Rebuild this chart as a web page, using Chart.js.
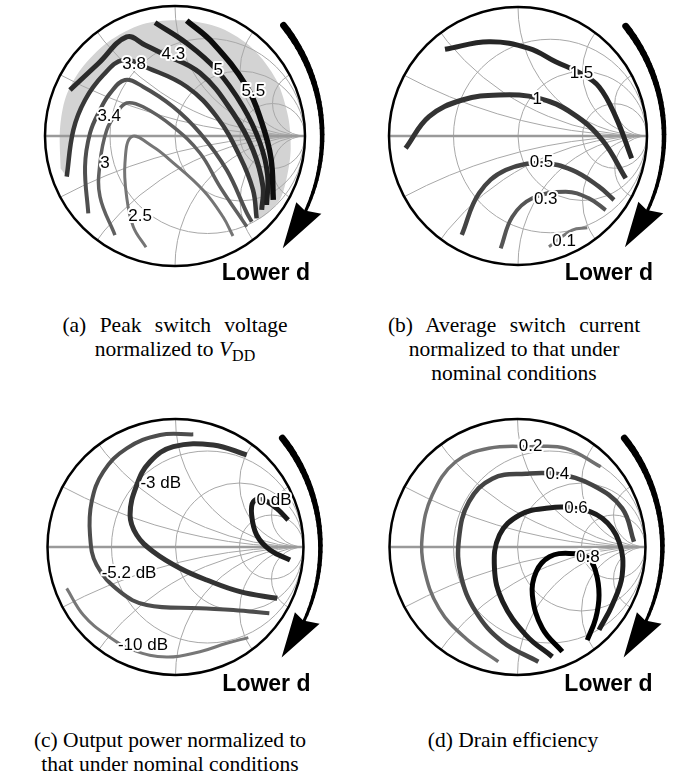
<!DOCTYPE html>
<html>
<head>
<meta charset="utf-8">
<script src="https://cdn.jsdelivr.net/npm/chart.js@4.4.0/dist/chart.umd.min.js"></script>
<style>
  body { margin: 0; background: #fff; width: 678px; height: 779px; position: relative; overflow: hidden; }
  canvas { position: absolute; }
  .cap { position: absolute; width: 300px; font-family: "Liberation Serif", "Times New Roman", serif; font-size: 21.5px; line-height: 24px; text-align: center; color: #000; white-space: nowrap; }
  .wide { word-spacing: 8px; }
  .sub { font-size: 16px; position: relative; top: 5px; }
</style>
</head>
<body>
<canvas id="chartA" width="339" height="300" style="left:0;top:0"></canvas>
<canvas id="chartB" width="339" height="300" style="left:339px;top:0"></canvas>
<canvas id="chartC" width="339" height="300" style="left:0;top:410px"></canvas>
<canvas id="chartD" width="339" height="300" style="left:339px;top:410px"></canvas>

<div class="cap" style="left:25px;top:313px"><span class="wide">(a) Peak switch voltage</span><br>normalized to <i>V</i><span class="sub">DD</span></div>
<div class="cap" style="left:364px;top:313px"><span class="wide">(b) Average switch current</span><br>normalized to that under<br>nominal conditions</div>
<div class="cap" style="left:20px;top:728px">(c) Output power normalized to<br>that under nominal conditions</div>
<div class="cap" style="left:363px;top:728px">(d) Drain efficiency</div>

<script>
// Grade da carta de Smith
const resistanceCircles = [1 / 3, 1, 3];
const reactanceArcs = [0.25, 0.5, 1, 2, 4];

// (a) Tensão de pico normalizada a VDD — pontos em coordenadas Γ (u, v)
const peak55 = [[0.09, 0.888], [0.292, 0.715], [0.552, 0.379], [0.665, 0.11], [0.738, -0.17], [0.756, -0.492]];
const peak5 = [[-0.154, 0.872], [0.09, 0.713], [0.32, 0.508], [0.523, 0.225], [0.654, -0.054], [0.712, -0.3], [0.705, -0.531]];
const peak43 = [[-0.808, 0.354], [-0.59, 0.558], [-0.372, 0.762], [-0.231, 0.7], [-0.102, 0.636], [0.192, 0.485], [0.446, 0.177], [0.6, -0.108], [0.677, -0.392], [0.667, -0.569]];
const peak38 = [[-0.833, -0.313], [-0.782, 0.046], [-0.692, 0.277], [-0.552, 0.469], [-0.397, 0.585], [-0.205, 0.521], [0.09, 0.379], [0.321, 0.148], [0.5, -0.159], [0.6, -0.415], [0.628, -0.633]];
const peak34 = [[-0.667, -0.595], [-0.692, -0.236], [-0.654, 0.021], [-0.577, 0.2], [-0.5, 0.328], [-0.385, 0.431], [-0.246, 0.379], [-0.015, 0.225], [0.192, 0.023], [0.398, -0.262], [0.552, -0.592], [0.59, -0.659]];
const peak3 = [[-0.462, -0.762], [-0.577, -0.467], [-0.577, -0.208], [-0.525, 0.046], [-0.448, 0.177], [-0.372, 0.254], [-0.246, 0.225], [-0.015, 0.072], [0.192, -0.131], [0.346, -0.39], [0.552, -0.698]];
const peak25 = [[-0.223, -0.856], [-0.321, -0.698], [-0.372, -0.467], [-0.385, -0.208], [-0.333, -0.005], [-0.169, -0.082], [-0.038, -0.185], [0.215, -0.415], [0.369, -0.621], [0.446, -0.769]];
const peakShade = [[-0.88, -0.25], [-0.885, 0.05], [-0.84, 0.3], [-0.72, 0.52], [-0.52, 0.72], [-0.25, 0.86], [0.05, 0.89], [0.35, 0.83], [0.6, 0.67], [0.78, 0.43], [0.87, 0.15], [0.89, -0.1], [0.86, -0.32], [0.8, -0.5], [0.63, -0.64], [0.6, -0.415], [0.5, -0.159], [0.321, 0.148], [0.09, 0.379], [-0.205, 0.521], [-0.397, 0.585], [-0.552, 0.469], [-0.692, 0.277], [-0.782, 0.046], [-0.833, -0.313]];
const peakLabels = [["5.5", 0.603, 0.341], ["5", 0.333, 0.508], ["4.3", -0.013, 0.629], ["3.8", -0.314, 0.552], ["3.4", -0.506, 0.148], ["3", -0.538, -0.21], ["2.5", -0.269, -0.621]];

// (b) Corrente média normalizada
const curr15 = [[-0.566, 0.672], [-0.225, 0.731], [0.085, 0.68], [0.292, 0.576], [0.486, 0.486], [0.628, 0.382], [0.757, 0.15], [0.881, -0.173]];
const curr1 = [[-0.871, -0.095], [-0.69, 0.15], [-0.432, 0.279], [-0.147, 0.318], [0.163, 0.292], [0.421, 0.176], [0.653, -0.031], [0.835, -0.328]];
const curr05 = [[-0.436, -0.767], [-0.302, -0.444], [-0.095, -0.264], [0.188, -0.212], [0.421, -0.264], [0.628, -0.393], [0.744, -0.496]];
const curr03 = [[-0.134, -0.871], [-0.044, -0.626], [0.111, -0.483], [0.37, -0.432], [0.55, -0.483], [0.68, -0.574]];
const curr01 = [[0.24, -0.858], [0.421, -0.729], [0.537, -0.711]];
const currLabels = [["1.5", 0.492, 0.486], ["1", 0.15, 0.287], ["0.5", 0.182, -0.204], ["0.3", 0.215, -0.488], ["0.1", 0.357, -0.819]];

// (c) Potência de saída normalizada
const pow0 = [[0.88, 0.211], [0.79, 0.302], [0.686, 0.367], [0.608, 0.354], [0.595, 0.25], [0.634, 0.094], [0.738, -0.023], [0.895, -0.102]];
const pow3 = [[0.556, 0.719], [0.295, 0.797], [-0.017, 0.784], [-0.199, 0.666], [-0.303, 0.484], [-0.355, 0.25], [-0.303, 0.094], [-0.173, -0.037], [0.035, -0.166], [0.244, -0.258], [0.504, -0.349], [0.795, -0.401]];
const pow52 = [[0.139, 0.88], [-0.121, 0.875], [-0.381, 0.771], [-0.564, 0.588], [-0.655, 0.354], [-0.668, 0.094], [-0.616, -0.141], [-0.434, -0.349], [-0.225, -0.453], [0.191, -0.479], [0.452, -0.492], [0.733, -0.518]];
const pow10 = [[-0.85, -0.323], [-0.72, -0.531], [-0.538, -0.688], [-0.33, -0.805], [-0.069, -0.86], [0.191, -0.818], [0.4, -0.752], [0.569, -0.708]];
const powLabels = [["0 dB", 0.77, 0.367], ["-3 dB", -0.115, 0.494], ["-5.2 dB", -0.363, -0.203], ["-10 dB", -0.254, -0.766]];

// (d) Eficiência de dreno
const eff08 = [[0.35, -0.818], [0.194, -0.635], [0.116, -0.375], [0.146, -0.193], [0.25, -0.076], [0.406, -0.05], [0.549, -0.083], [0.611, -0.193], [0.637, -0.375], [0.611, -0.557], [0.545, -0.727]];
const eff06 = [[0.272, -0.857], [0.066, -0.688], [-0.116, -0.427], [-0.18, -0.166], [-0.141, 0.094], [0.016, 0.25], [0.224, 0.302], [0.457, 0.302], [0.662, 0.224], [0.793, 0.041], [0.818, -0.219], [0.74, -0.453], [0.637, -0.648]];
const eff04 = [[0.163, -0.896], [-0.118, -0.74], [-0.326, -0.505], [-0.443, -0.219], [-0.457, 0.068], [-0.379, 0.354], [-0.197, 0.534], [0.066, 0.573], [0.311, 0.57], [0.584, 0.484], [0.818, 0.302], [0.91, 0.041]];
const eff02 = [[-0.15, -0.896], [-0.405, -0.713], [-0.613, -0.479], [-0.73, -0.166], [-0.744, 0.094], [-0.666, 0.406], [-0.483, 0.666], [-0.223, 0.771], [0.103, 0.784], [0.377, 0.771], [0.65, 0.627]];
const effLabels = [["0.2", 0.103, 0.784], ["0.4", 0.311, 0.57], ["0.6", 0.457, 0.302], ["0.8", 0.549, -0.083]];

// Seta "Lower d" (em unidades do raio)
const arrowArc = { cx: -0.235, r: 1.367, from: 38.5, to: -24.9 };
const arrowHead = [[0.829, -0.863], [0.933, -0.509], [0.998, -0.574], [1.126, -0.599]];

const toXY = (pts) => pts.map(([x, y]) => ({ x, y }));

function curva(pts, cor, largura) {
  return {
    data: toXY(pts),
    showLine: true,
    borderColor: cor,
    borderWidth: largura,
    borderCapStyle: "butt",
    pointRadius: 0,
    tension: 0.4,
    fill: false,
    order: 1,
  };
}

function sombra(pts) {
  return {
    data: toXY(pts),
    showLine: true,
    borderWidth: 0,
    borderColor: "rgba(0,0,0,0)",
    backgroundColor: "#d3d3d3",
    pointRadius: 0,
    tension: 0.3,
    fill: "shape",
    order: 10,
  };
}

function centro(chart) {
  const ox = chart.scales.x.getPixelForValue(0);
  const oy = chart.scales.y.getPixelForValue(0);
  const R = chart.scales.x.getPixelForValue(1) - ox;
  return { ox, oy, R };
}

function desenharGrade(chart) {
  const ctx = chart.ctx;
  const { ox, oy, R } = centro(chart);
  ctx.save();
  ctx.beginPath();
  ctx.arc(ox, oy, R, 0, 2 * Math.PI);
  ctx.clip();
  ctx.strokeStyle = "#a8a8a8";
  ctx.lineWidth = 1;
  resistanceCircles.forEach((r) => {
    ctx.beginPath();
    ctx.arc(ox + (R * r) / (1 + r), oy, R / (1 + r), 0, 2 * Math.PI);
    ctx.stroke();
  });
  reactanceArcs.forEach((x) => {
    [1, -1].forEach((s) => {
      ctx.beginPath();
      ctx.arc(ox + R, oy - (s * R) / x, R / x, 0, 2 * Math.PI);
      ctx.stroke();
    });
  });
  ctx.restore();

  ctx.save();
  ctx.strokeStyle = "#9a9a9a";
  ctx.lineWidth = 2.5;
  ctx.beginPath();
  ctx.moveTo(ox - R, oy);
  ctx.lineTo(ox + R, oy);
  ctx.stroke();
  ctx.strokeStyle = "#000";
  ctx.lineWidth = 2.5;
  ctx.beginPath();
  ctx.arc(ox, oy, R, 0, 2 * Math.PI);
  ctx.stroke();
  ctx.restore();
}

function desenharRotulos(chart, rotulos) {
  const ctx = chart.ctx;
  ctx.save();
  ctx.font = '17px "Liberation Sans", Arial, sans-serif';
  ctx.textAlign = "center";
  ctx.textBaseline = "middle";
  ctx.lineJoin = "round";
  rotulos.forEach(([txt, u, v]) => {
    const x = chart.scales.x.getPixelForValue(u);
    const y = chart.scales.y.getPixelForValue(v);
    ctx.strokeStyle = "#fff";
    ctx.lineWidth = 4;
    ctx.strokeText(txt, x, y);
    ctx.fillStyle = "#000";
    ctx.fillText(txt, x, y);
  });
  ctx.restore();
}

function desenharSeta(chart) {
  const ctx = chart.ctx;
  const { ox, oy, R } = centro(chart);
  const ac = ox + arrowArc.cx * R;
  const rr = arrowArc.r * R;
  const a0 = (-arrowArc.from * Math.PI) / 180;
  const a1 = (-arrowArc.to * Math.PI) / 180;
  const n = 30;
  ctx.save();
  ctx.strokeStyle = "#000";
  ctx.lineCap = "round";
  for (let i = 0; i < n; i++) {
    const t0 = a0 + ((a1 - a0) * i) / n;
    const t1 = a0 + ((a1 - a0) * (i + 1)) / n;
    ctx.lineWidth = 6.8 - (3.8 * i) / n;
    ctx.beginPath();
    ctx.arc(ac, oy, rr, t0, t1, false);
    ctx.stroke();
  }
  ctx.fillStyle = "#000";
  ctx.beginPath();
  arrowHead.forEach(([u, v], i) => {
    const x = ox + u * R;
    const y = oy - v * R;
    if (i === 0) ctx.moveTo(x, y);
    else ctx.lineTo(x, y);
  });
  ctx.closePath();
  ctx.fill();

  ctx.font = 'bold 23px "Liberation Sans", Arial, sans-serif';
  ctx.textAlign = "right";
  ctx.textBaseline = "alphabetic";
  ctx.fillText("Lower d", ox + 135, oy + 144);
  ctx.restore();
}

const extras = {};

const smithPlugin = {
  id: "smith",
  beforeDatasetsDraw(chart) {
    if (!extras[chart.canvas.id].sombreado) desenharGrade(chart);
  },
  afterDatasetDraw(chart, args) {
    if (extras[chart.canvas.id].sombreado && args.index === 0) desenharGrade(chart);
  },
  afterDatasetsDraw(chart) {
    desenharRotulos(chart, extras[chart.canvas.id].rotulos);
    desenharSeta(chart);
  },
};

function criarCarta(id, painel, datasets, rotulos, sombreado) {
  extras[id] = { rotulos, sombreado };
  const canvas = document.getElementById(id);
  const W = canvas.width;
  const H = canvas.height;
  return new Chart(canvas.getContext("2d"), {
    type: "scatter",
    data: { datasets },
    options: {
      responsive: false,
      animation: false,
      events: [],
      layout: { padding: 0 },
      scales: {
        x: { type: "linear", display: false, min: -painel.cx / painel.R, max: (W - painel.cx) / painel.R },
        y: { type: "linear", display: false, min: -(H - painel.cy) / painel.R, max: painel.cy / painel.R },
      },
      plugins: { legend: { display: false }, tooltip: { enabled: false } },
    },
    plugins: [smithPlugin],
  });
}

criarCarta(
  "chartA",
  { cx: 175, cy: 136, R: 130 },
  [
    sombra(peakShade),
    curva(peak55, "#0d0d0d", 5.5),
    curva(peak5, "#1e1e1e", 5),
    curva(peak43, "#2b2b2b", 5),
    curva(peak38, "#383838", 4.5),
    curva(peak34, "#4f4f4f", 4),
    curva(peak3, "#606060", 3.5),
    curva(peak25, "#757575", 3),
  ],
  peakLabels,
  true
);

criarCarta(
  "chartB",
  { cx: 179, cy: 136, R: 129 },
  [
    curva(curr15, "#262626", 5),
    curva(curr1, "#333333", 5),
    curva(curr05, "#444444", 4.5),
    curva(curr03, "#555555", 4),
    curva(curr01, "#777777", 3),
  ],
  currLabels,
  false
);

criarCarta(
  "chartC",
  { cx: 175.5, cy: 137, R: 128 },
  [
    curva(pow0, "#1a1a1a", 5),
    curva(pow3, "#333333", 5),
    curva(pow52, "#4d4d4d", 4),
    curva(pow10, "#777777", 3),
  ],
  powLabels,
  false
);

criarCarta(
  "chartD",
  { cx: 178.5, cy: 137, R: 128 },
  [
    curva(eff08, "#000000", 5),
    curva(eff06, "#1e1e1e", 5),
    curva(eff04, "#444444", 4.5),
    curva(eff02, "#707070", 3.5),
  ],
  effLabels,
  false
);
</script>
</body>
</html>
